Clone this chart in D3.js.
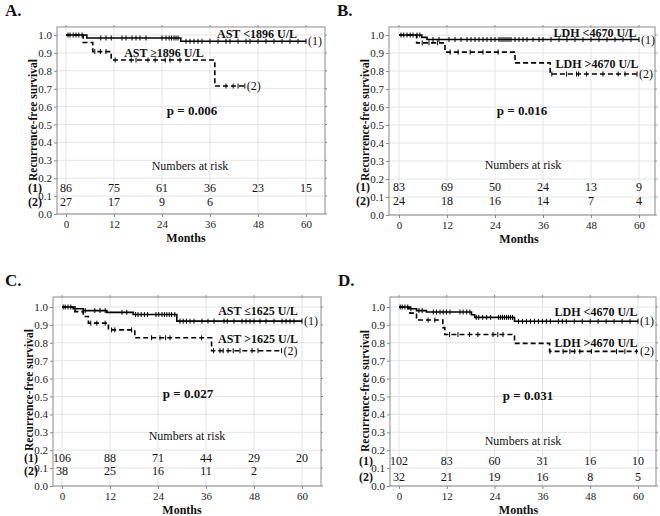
<!DOCTYPE html>
<html>
<head>
<meta charset="utf-8">
<script src="https://cdn.jsdelivr.net/npm/d3@7"></script>
<style>
  body { margin: 0; background: #fff; }
  svg text { font-family: "Liberation Serif", "Times New Roman", serif; fill: #111; }
</style>
</head>
<body>
<svg id="chart" width="660" height="516"></svg>
<script>
// shared ticks
var monthTicks = [0, 12, 24, 36, 48, 60];
var survTicks = [0, 0.1, 0.2, 0.3, 0.4, 0.5, 0.6, 0.7, 0.8, 0.9, 1.0];

// Panel A - AST 1896
var aSteps1 = [[0, 1], [5.2, 0.983], [28.7, 0.965]];
var aEnd1 = 60;
var aCens1 = [0.5, 1, 1.8, 2.5, 3.2, 4, 8.7, 10, 11.3, 14, 15, 16.5, 17.5, 18.5, 20,
  24, 25, 25.8, 26.4, 27, 27.5, 28, 30, 31, 32, 33, 34, 36, 38, 40, 41, 43, 45, 46, 48, 50, 52, 54, 56, 58, 60];
var aSteps2 = [[0, 1], [4.3, 0.958], [6.7, 0.907], [11.3, 0.86], [37.2, 0.715]];
var aEnd2 = 44.7;
var aCens2 = [7.2, 8.6, 10, 12.3, 16.3, 17.5, 20.5, 22.3, 24.8, 26, 28.5, 40, 41.8, 43, 44.7];
var aRisk1 = [86, 75, 61, 36, 23, 15];
var aRisk2 = [27, 17, 9, 6];

// Panel B - LDH 4670
var bSteps1 = [[0, 1], [5.7, 0.987], [7, 0.975]];
var bEnd1 = 60;
var bCens1 = [0.5, 1.2, 2, 2.8, 3.5, 4.5, 5.2, 8.5, 10, 12.5, 14, 15.5, 17, 18, 19, 20, 21, 22, 23, 24,
  25, 25.5, 26, 26.5, 27, 27.5, 28, 29, 30, 31, 32, 33.5, 35, 36, 38, 40, 42, 44, 46, 48, 50, 52, 54, 56, 58, 60];
var bSteps2 = [[0, 1], [4.4, 0.956], [11.5, 0.905], [29, 0.845], [37.8, 0.783]];
var bEnd2 = 59.5;
var bCens2 = [5.8, 7.5, 9.6, 12.8, 14.8, 17.8, 21, 24.8, 38.2, 41.9, 44.4, 44.9, 46.9, 51, 54.8, 56.5, 59.5];
var bRisk1 = [83, 69, 50, 24, 13, 9];
var bRisk2 = [24, 18, 16, 14, 7, 4];

// Panel C - AST 1625
var cSteps1 = [[0, 1], [2.8, 0.99], [5.3, 0.98], [11.2, 0.97], [17.8, 0.958], [28.7, 0.921]];
var cEnd1 = 60;
var cCens1 = [0.3, 0.8, 1.5, 2.2, 3.3, 5.8, 8.2, 9.5, 10.8, 15, 16.2, 18.4, 19, 19.8, 20.6, 21.4,
  23.5, 24.2, 25, 25.6, 26.2, 26.8, 27.4, 28.2, 29.5, 30.3, 31.1, 32, 33, 35, 36.5, 38, 40.5, 41.3,
  43, 45, 46, 47, 48, 49.5, 51, 53, 55, 56, 57, 58, 60];
var cSteps2 = [[0, 1], [3.2, 0.974], [5.3, 0.947], [6.6, 0.91], [11.6, 0.872], [18.2, 0.828], [37.4, 0.756]];
var cEnd2 = 54.9;
var cCens2 = [7.2, 8.7, 10.8, 12.4, 13.2, 17.4, 22.4, 24.5, 25.9, 27, 34.9, 37.9, 39.5, 40.3, 41.5,
  42.8, 44.5, 47.5, 49, 54.9];
var cRisk1 = [106, 88, 71, 44, 29, 20];
var cRisk2 = [38, 25, 16, 11, 2];

// Panel D - LDH 4670
var dSteps1 = [[0, 1], [2.3, 0.99], [4.4, 0.98], [6.9, 0.972], [18.2, 0.957], [19, 0.942], [29, 0.92]];
var dEnd1 = 60;
var dCens1 = [0.3, 0.8, 1.5, 2.2, 3, 5, 5.8, 8.6, 9.4, 10.3, 11.1, 11.9, 12.8, 15.3, 16.1, 17, 17.8,
  19.4, 20, 21, 22, 23, 25, 25.5, 26, 26.5, 27, 27.5, 28, 28.5, 30, 31, 32, 33, 34, 35, 36, 37, 38,
  40, 41, 42, 44, 46, 48, 50, 52, 54, 56, 58, 60];
var dSteps2 = [[0, 1], [2.75, 0.966], [4.4, 0.927], [11, 0.885], [11.5, 0.846], [29, 0.797], [37.8, 0.752]];
var dEnd2 = 60;
var dCens2 = [7.3, 9, 12.7, 14.8, 17.7, 19.8, 23.6, 24.8, 26.1, 37.9, 41.2, 42.9, 44.1, 45.4, 48.3,
  54.6, 56.7, 59.6];
var dRisk1 = [102, 83, 60, 31, 16, 10];
var dRisk2 = [32, 21, 19, 16, 8, 5];

var panels = [
  {letter: "A.", lx: 5, ly: 16, x0: 66, x60: 306, yb: 214, yt: 35, fl: 57, fr: 325, ft: 27,
   s1: aSteps1, e1: aEnd1, c1: aCens1, s2: aSteps2, e2: aEnd2, c2: aCens2, r1: aRisk1, r2: aRisk2,
   lab1: "AST <1896 U/L", l1x: 257, l1y: 38, lab2: "AST \u22651896 U/L", l2x: 164, l2y: 57,
   pval: "p = 0.006", px: 192, py: 115, nx: 190, ny: 170, ry1: 192, ry2: 206, gx: 35,
   tx: 37, ty: 120},
  {letter: "B.", lx: 337, ly: 16, x0: 399, x60: 639, yb: 215, yt: 35, fl: 389, fr: 655, ft: 27,
   s1: bSteps1, e1: bEnd1, c1: bCens1, s2: bSteps2, e2: bEnd2, c2: bCens2, r1: bRisk1, r2: bRisk2,
   lab1: "LDH <4670 U/L", l1x: 595, l1y: 37, lab2: "LDH >4670 U/L", l2x: 597, l2y: 68,
   pval: "p = 0.016", px: 522, py: 115, nx: 523, ny: 169, ry1: 191, ry2: 205, gx: 363,
   tx: 369, ty: 120},
  {letter: "C.", lx: 5, ly: 286, x0: 62, x60: 302, yb: 486, yt: 307, fl: 53, fr: 321, ft: 297,
   s1: cSteps1, e1: cEnd1, c1: cCens1, s2: cSteps2, e2: cEnd2, c2: cCens2, r1: cRisk1, r2: cRisk2,
   lab1: "AST \u22641625 U/L", l1x: 258, l1y: 315, lab2: "AST >1625 U/L", l2x: 258, l2y: 343,
   pval: "p = 0.027", px: 188, py: 398, nx: 187, ny: 440, ry1: 462, ry2: 475, gx: 31,
   tx: 33, ty: 390},
  {letter: "D.", lx: 338, ly: 286, x0: 399, x60: 638, yb: 486, yt: 307, fl: 390, fr: 656, ft: 297,
   s1: dSteps1, e1: dEnd1, c1: dCens1, s2: dSteps2, e2: dEnd2, c2: dCens2, r1: dRisk1, r2: dRisk2,
   lab1: "LDH <4670 U/L", l1x: 596, l1y: 316, lab2: "LDH >4670 U/L", l2x: 596, l2y: 347,
   pval: "p = 0.031", px: 528, py: 400, nx: 523, ny: 445, ry1: 465, ry2: 481, gx: 366,
   tx: 369, ty: 391}
];

var svg = d3.select("#chart");

function survAt(steps, t) {
  var s = steps[0][1];
  steps.forEach(function(d) { if (d[0] <= t) s = d[1]; });
  return s;
}

function drawPanel(p) {
  var x = d3.scaleLinear().domain([0, 60]).range([p.x0, p.x60]);
  var y = d3.scaleLinear().domain([0, 1]).range([p.yb, p.yt]);
  var g = svg.append("g");

  // gridlines
  g.selectAll(".vg").data(monthTicks).enter().append("line")
    .attr("x1", function(d) { return x(d); }).attr("x2", function(d) { return x(d); })
    .attr("y1", p.ft).attr("y2", p.yb)
    .style("stroke", "#e4e4e4").style("stroke-width", 1);
  g.selectAll(".hg").data(survTicks).enter().append("line")
    .attr("x1", p.fl).attr("x2", p.fr)
    .attr("y1", function(d) { return y(d); }).attr("y2", function(d) { return y(d); })
    .style("stroke", "#e4e4e4").style("stroke-width", 1);

  // frame
  g.append("rect")
    .attr("x", p.fl).attr("y", p.ft)
    .attr("width", p.fr - p.fl).attr("height", p.yb - p.ft)
    .style("fill", "none").style("stroke", "#8a8a8a").style("stroke-width", 1);

  // axes
  var yAxis = d3.axisLeft(y).tickValues(survTicks).tickFormat(d3.format(".1f")).tickSize(3).tickPadding(2);
  var xAxis = d3.axisBottom(x).tickValues(monthTicks).tickSize(3).tickPadding(3);
  var ya = g.append("g").attr("transform", "translate(" + p.fl + ",0)").call(yAxis);
  var xa = g.append("g").attr("transform", "translate(0," + p.yb + ")").call(xAxis);
  [ya, xa].forEach(function(a) {
    a.attr("font-family", null);
    a.select(".domain").remove();
    a.selectAll("line").style("stroke", "#8a8a8a");
    a.selectAll("text").style("font-size", "11px").style("fill", "#222");
  });
  // small ticks on right and top edges
  g.selectAll(".rt").data(survTicks).enter().append("line")
    .attr("x1", p.fr).attr("x2", p.fr + 2)
    .attr("y1", function(d) { return y(d); }).attr("y2", function(d) { return y(d); })
    .style("stroke", "#8a8a8a");
  g.selectAll(".tt").data(monthTicks).enter().append("line")
    .attr("x1", function(d) { return x(d); }).attr("x2", function(d) { return x(d); })
    .attr("y1", p.ft).attr("y2", p.ft - 2)
    .style("stroke", "#8a8a8a");

  // curves
  var line = d3.line().x(function(d) { return x(d[0]); }).y(function(d) { return y(d[1]); })
    .curve(d3.curveStepAfter);
  function curve(steps, end, cens, dash) {
    var pts = steps.concat([[end, steps[steps.length - 1][1]]]);
    g.append("path").attr("d", line(pts))
      .style("fill", "none").style("stroke", "#000").style("stroke-width", 1.6)
      .style("stroke-dasharray", dash ? "5,3" : null);
    g.selectAll(null).data(cens).enter().append("line")
      .attr("x1", function(d) { return x(d); }).attr("x2", function(d) { return x(d); })
      .attr("y1", function(d) { return y(survAt(steps, d)) - 2.5; })
      .attr("y2", function(d) { return y(survAt(steps, d)) + 2.5; })
      .style("stroke", "#000").style("stroke-width", 1);
  }
  curve(p.s2, p.e2, p.c2, true);
  curve(p.s1, p.e1, p.c1, false);

  // curve labels
  g.append("text").attr("x", p.l1x).attr("y", p.l1y).attr("text-anchor", "middle")
    .style("font-size", "12px").style("font-weight", "bold").text(p.lab1);
  g.append("text").attr("x", p.l2x).attr("y", p.l2y).attr("text-anchor", "middle")
    .style("font-size", "12px").style("font-weight", "bold").text(p.lab2);
  g.append("text").attr("x", x(p.e1) + 2).attr("y", y(p.s1[p.s1.length - 1][1]) + 4)
    .style("font-size", "12px").text("(1)");
  g.append("text").attr("x", x(p.e2) + 2).attr("y", y(p.s2[p.s2.length - 1][1]) + 4)
    .style("font-size", "12px").text("(2)");

  // p value
  g.append("text").attr("x", p.px).attr("y", p.py).attr("text-anchor", "middle")
    .style("font-size", "13px").style("font-weight", "bold").text(p.pval);

  // numbers at risk
  g.append("text").attr("x", p.nx).attr("y", p.ny).attr("text-anchor", "middle")
    .style("font-size", "12px").text("Numbers at risk");
  g.selectAll(null).data(p.r1).enter().append("text")
    .attr("x", function(d, i) { return x(monthTicks[i]); }).attr("y", p.ry1)
    .attr("text-anchor", "middle").style("font-size", "12px").text(function(d) { return d; });
  g.selectAll(null).data(p.r2).enter().append("text")
    .attr("x", function(d, i) { return x(monthTicks[i]); }).attr("y", p.ry2)
    .attr("text-anchor", "middle").style("font-size", "12px").text(function(d) { return d; });
  g.append("text").attr("x", p.gx).attr("y", p.ry1).attr("text-anchor", "middle")
    .style("font-size", "12px").style("font-weight", "bold").text("(1)");
  g.append("text").attr("x", p.gx).attr("y", p.ry2).attr("text-anchor", "middle")
    .style("font-size", "12px").style("font-weight", "bold").text("(2)");

  // axis titles
  g.append("text").attr("x", (p.x0 + p.x60) / 2).attr("y", p.yb + 28).attr("text-anchor", "middle")
    .style("font-size", "12px").style("font-weight", "bold").text("Months");
  g.append("text")
    .attr("transform", "translate(" + p.tx + "," + p.ty + ") rotate(-90)")
    .attr("text-anchor", "middle")
    .style("font-size", "11.5px").style("font-weight", "bold").text("Recurrence-free survival");

  // panel letter
  g.append("text").attr("x", p.lx).attr("y", p.ly)
    .style("font-size", "17px").style("font-weight", "bold").text(p.letter);
}

panels.forEach(drawPanel);
</script>
</body>
</html>
